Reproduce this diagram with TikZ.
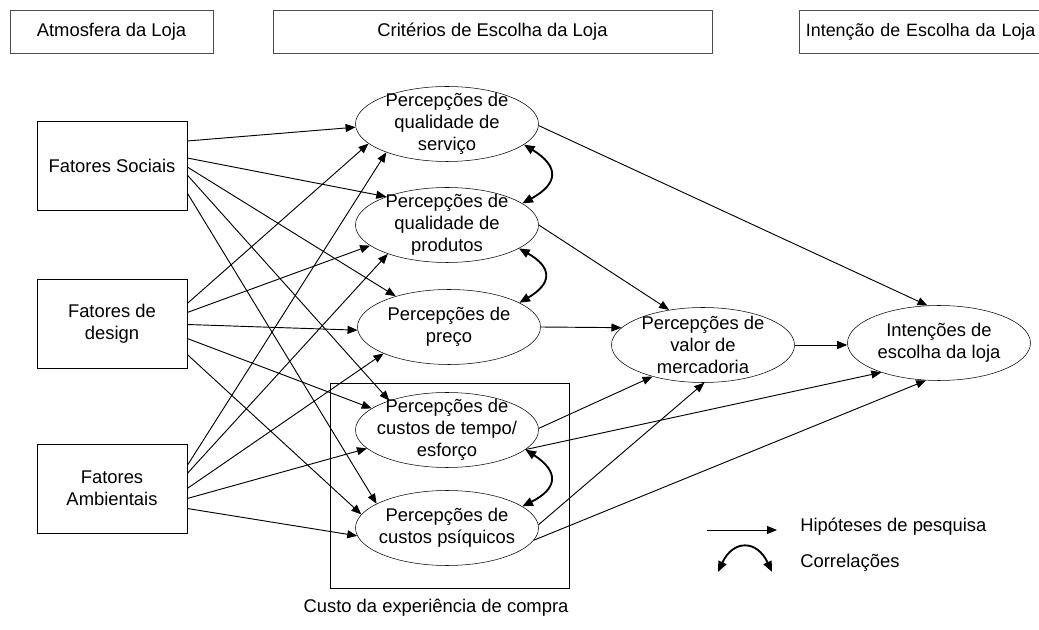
\documentclass[tikz,border=0pt]{standalone}
\usepackage{fontspec}
\setmainfont{Liberation Sans}
\usetikzlibrary{positioning,calc,shapes.geometric,arrows.meta}
\begin{document}
\begin{tikzpicture}
	[x=0.75pt, y=-0.75pt,
	every node/.style={font=\fontsize{13.8}{16.5}\selectfont},
	cabec/.style={draw=black!70, minimum height=32.25pt, inner sep=0pt},
	fator/.style={draw, minimum width=112.5pt, minimum height=66.5pt, align=center, inner sep=0pt},
	percep/.style={ellipse, draw, minimum width=137.25pt, minimum height=56.25pt, inner sep=0pt},
	ptext/.style={align=center, inner sep=0pt},
	legtext/.style={anchor=west, inner sep=0pt},
	hip/.style={-{Triangle[length=7.5pt, width=6pt]}, line width=0.7pt},
	corr/.style={{Triangle[length=8pt, width=6.5pt]}-{Triangle[length=8pt, width=6.5pt]}, line width=1.4pt}]
	\useasboundingbox (0,0) rectangle (1039,630);

	\node[cabec, minimum width=152.25pt] (atmos) at (111.5,31.5) {Atmosfera da Loja};
	\node[cabec, minimum width=329.25pt] (criter) at (492.5,31.5) {Critérios de Escolha da Loja};
	\node[cabec, anchor=west, text width=200pt, inner xsep=5pt, align=left, font=\fontsize{13.4}{16}\selectfont] (intcab) at (799,31.5) {Intenção de Escolha da Loja};

	\node[fator] (sociais) at (112,166) {Fatores Sociais};
	\node[fator] (design) at (112,323.5) {Fatores de\\design};
	\node[fator] (ambient) at (112,488.5) {Fatores\\Ambientais};

	\node[draw, minimum width=179.25pt, minimum height=153.75pt, inner sep=0pt] (custo) at (449.5,485.5) {};
	\node (custotxt) at (436,608) {Custo da experiência de compra};

	\node[percep, label={[ptext]center:{Percepções de\\qualidade de\\serviço}}] (qserv) at (447,124) {};
	\node[percep, label={[ptext]center:{Percepções de\\qualidade de\\produtos}}] (qprod) at (447,225) {};
	\node[percep, label={[ptext]center:{Percepções de\\preço}}] (preco) at (449,327) {};
	\node[percep, label={[ptext]center:{Percepções de\\custos de tempo/\\esforço}}] (tempo) at (447,430) {};
	\node[percep, label={[ptext]center:{Percepções de\\custos psíquicos}}] (psiq) at (447,528) {};
	\node[percep, label={[ptext]center:{Percepções de\\valor de\\mercadoria}}] (valor) at (703,345) {};
	\node[percep, label={[ptext]center:{Intenções de\\escolha da loja}}] (intenc) at (939,343) {};

	\draw[hip] ($(sociais.east)+(0,-25)$) to (qserv.182);
	\draw[hip] ($(sociais.east)+(0,-8)$) to (qprod.155);
	\draw[hip] ($(sociais.east)+(0,1)$) to (preco.150);
	\draw[hip] ($(sociais.east)+(0,9)$) to (tempo.153);
	\draw[hip] ($(sociais.east)+(0,27)$) to (psiq.161);

	\draw[hip] ($(design.east)+(0,-20)$) to (qserv.194);
	\draw[hip] ($(design.east)+(0,-11)$) to (qprod.195);
	\draw[hip] ($(design.east)+(0,1)$) to (preco.182);
	\draw[hip] ($(design.east)+(0,15)$) to (tempo.164);
	\draw[hip] ($(design.east)+(0,31)$) to (psiq.171);

	\draw[hip] ($(ambient.east)+(0,-23)$) to (qserv.205);
	\draw[hip] ($(ambient.east)+(0,-15)$) to (qprod.206);
	\draw[hip] (ambient.east) to (preco.202);
	\draw[hip] ($(ambient.east)+(0,10)$) to (tempo.193);
	\draw[hip] ($(ambient.east)+(0,20)$) to (psiq.185);

	\draw[hip] (qserv.-1) to (intenc.107);
	\draw[hip] (qprod.east) to (valor.134);
	\draw[hip] (preco.east) to (valor.168);
	\draw[hip] (tempo.1) to (valor.212);
	\draw[hip] (tempo.-14) to (intenc.207);
	\draw[hip] (psiq.2) to (valor.-88);
	\draw[hip] (psiq.-8) to (intenc.251);
	\draw[hip] (valor.east) to (valor.east -| intenc.west);

	\draw[corr] (qserv.-15) to[bend left=60, looseness=1.8] (qprod.16);
	\draw[corr] (qprod.-18) to[bend left=60, looseness=1.8] (preco.19);
	\draw[corr] (tempo.-14) to[bend left=60, looseness=1.8] (psiq.16);

	\coordinate (hipa) at (707,530);
	\coordinate (hipb) at (777,530);
	\draw[hip] (hipa) to (hipb);
	\node[legtext] (hiptxt) at (800,527) {Hipóteses de pesquisa};
	\coordinate (corra) at (718,572);
	\coordinate (corrb) at (772,572);
	\draw[corr] (corra) to[bend left=65, looseness=1.7] (corrb);
	\node[legtext] (corrtxt) at (800,563) {Correlações};
\end{tikzpicture}
\end{document}
